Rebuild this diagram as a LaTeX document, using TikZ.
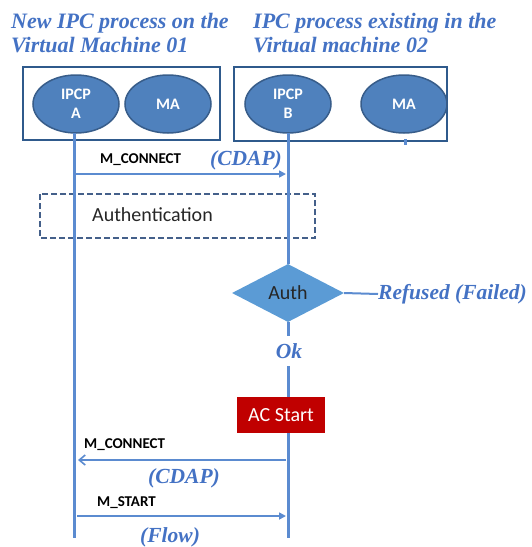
\documentclass[tikz,border=0pt]{standalone}
\usepackage{fontspec}
\setmainfont{Liberation Serif}
\setsansfont{Carlito}
\usetikzlibrary{shapes.geometric,arrows.meta}
\definecolor{titleblue}{HTML}{4472C4}
\definecolor{lifeblue}{HTML}{5B8BD0}
\definecolor{boxblue}{HTML}{2F5A8C}
\definecolor{ellfill}{HTML}{4F81BD}
\definecolor{ellline}{HTML}{385D8A}
\definecolor{diafill}{HTML}{5B9BD5}
\definecolor{dashcol}{HTML}{44608A}
\definecolor{acred}{HTML}{C00000}
\tikzset{
  ttl/.style={font=\fontsize{22}{24}\selectfont\bfseries\itshape, text=titleblue, align=left, inner sep=0},
  blab/.style={font=\fontsize{21.5}{23}\selectfont\bfseries\itshape, text=titleblue, inner sep=0},
  vm/.style={draw=boxblue, line width=2.2pt},
  proc/.style={ellipse, draw=ellline, line width=1.5pt, fill=ellfill, minimum width=86pt, minimum height=58pt, text=white, font=\sffamily\bfseries\fontsize{16}{19}\selectfont, align=center, inner sep=0},
  life/.style={draw=lifeblue, line width=3pt},
  msg/.style={draw=lifeblue, line width=1.6pt},
  mlab/.style={font=\sffamily\bfseries\fontsize{15}{16}\selectfont, inner sep=0},
}
\begin{document}
\begin{tikzpicture}[x=1pt,y=-1pt]
\useasboundingbox (0,0) rectangle (531,547);
% titles
\node[ttl, anchor=north west] (t1) at (11,13) {New IPC process on the\\Virtual Machine 01};
\node[ttl, anchor=north west] (t2) at (253,13) {IPC process existing in the\\Virtual machine 02};
% VM boxes
\draw[vm] (23,67) rectangle (220,140);
\draw[vm] (234,67) rectangle (447,141);
% processes
\node[proc] (ipcpa) at (76,104) {IPCP\\A};
\node[proc] (ma1) at (168,104) {MA};
\node[proc] (ipcpb) at (288,104) {IPCP\\B};
\node[proc] (ma2) at (404,104) {MA};
\coordinate (ma2s) at (405,145);
\draw[lifeblue, line width=3pt] (405,139) -- (ma2s);
% bottom ends
\coordinate (aend) at (74,538);
\coordinate (bend) at (288,538);
% Authentication dashed box
\draw[dashcol, line width=1.8pt, dash pattern=on 6pt off 3pt] (40,194) rectangle (315,238);
\node[font=\sffamily\fontsize{20}{21}\selectfont, text=black!85, anchor=west, inner sep=0] (authtxt) at (92,215) {Authentication};
% Auth diamond
\node[diamond, fill=diafill, minimum width=112pt, minimum height=58pt, inner sep=0, aspect=1.9, font=\sffamily\fontsize{20}{21}\selectfont, text=black!85] (auth) at (288,293) {Auth};
\node[blab, anchor=west] (refused) at (378,294) {Refused (Failed)};
\draw[lifeblue, line width=2pt] (auth.east) -- (refused.west);
\node[blab] (ok) at (289,351) {Ok};
% AC Start
\node[fill=acred, text=white, minimum width=88pt, minimum height=36pt, inner sep=0, font=\sffamily\fontsize{20}{21}\selectfont] (ac) at (281,415) {AC Start};
% lifelines
\draw[life] (74,133) -- (aend);
\draw[life] (288,133) -- (auth.north);
\draw[life] (auth.south) -- (288,336);
\draw[life] (288,366) -- (ac.north -| 288,0);
\draw[life] (ac.south -| 288,0) -- (bend);
% messages
\coordinate (m1a) at (76,174);
\coordinate (m1b) at (286,174);
\draw[msg, -{Triangle[length=7pt,width=7pt]}] (m1a) -- (m1b);
\node[mlab, anchor=west] (m1l) at (100,160) {M\_CONNECT};
\node[blab, anchor=west] (m1c) at (210,160) {(CDAP)};
\coordinate (m2a) at (286,460);
\coordinate (m2b) at (78,460);
\draw[msg, -{Straight Barb[length=6pt,width=10pt]}] (m2a) -- (m2b);
\node[mlab, anchor=west] (m2l) at (84,445) {M\_CONNECT};
\node[blab, anchor=west] (m2c) at (148,478) {(CDAP)};
\coordinate (m3a) at (77,516);
\coordinate (m3b) at (286,516);
\draw[msg, -{Triangle[length=7pt,width=7pt]}] (m3a) -- (m3b);
\node[mlab, anchor=west] (m3l) at (97,503) {M\_START};
\node[blab, anchor=west] (m3c) at (140,537) {(Flow)};
\end{tikzpicture}
\end{document}
